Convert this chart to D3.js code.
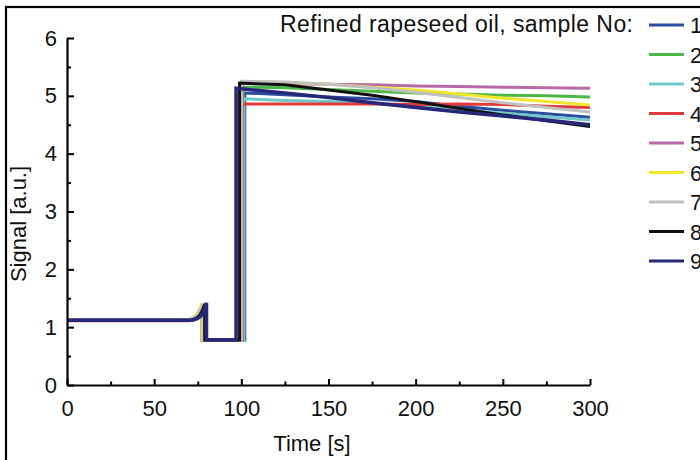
<!DOCTYPE html>
<html><head><meta charset="utf-8">
<script src="https://cdn.jsdelivr.net/npm/d3@7"></script>
<style>body{margin:0;background:#fff}svg{display:block}text{font-family:"Liberation Sans",Arial,sans-serif}</style>
</head><body>
<svg id="c" width="700" height="460"></svg>
<script>
// ---- data ----
const legendTitle = "Refined rapeseed oil, sample No:";
const sampleNames = ["1","2","3","4","5","6","7","8","9"];
const sampleColors = ["#2b4fa0","#4cb848","#6ec8c8","#e03a3a","#b86aa8","#f0e62a","#c0c0c0","#111111","#27287a"];
const xTicks = [0,50,100,150,200,250,300];
const yTicks = [0,1,2,3,4,5,6];
const xMinor = [25,75,125,175,225,275];
const yMinor = [0.5,1.5,2.5,3.5,4.5,5.5];

const s1 = [[0,1.12],[70,1.12],[73,1.15],[75,1.2],[76.5,1.28],[78,1.40],[78,0.78],[102,0.78],[102,5.05],[125,5.02],[150,4.98],[175,4.95],[200,4.90],[225,4.82],[250,4.75],[275,4.69],[300,4.63]];
const s2 = [[0,1.13],[70,1.13],[72.5,1.16],[74.5,1.21],[76,1.29],[77.5,1.40],[77.5,0.78],[101,0.78],[101,5.15],[125,5.14],[150,5.11],[175,5.08],[200,5.05],[225,5.03],[250,5.01],[275,5.00],[300,4.98]];
const s3 = [[0,1.12],[70,1.12],[73,1.15],[75,1.2],[76.5,1.28],[78,1.39],[78,0.78],[101.5,0.78],[101.5,4.95],[125,4.92],[150,4.90],[175,4.87],[200,4.82],[225,4.76],[250,4.70],[275,4.64],[300,4.58]];
const s4 = [[0,1.11],[70,1.11],[72.5,1.14],[74.5,1.2],[76,1.28],[77.5,1.38],[77.5,0.77],[100.5,0.77],[100.5,4.86],[125,4.86],[150,4.86],[175,4.86],[200,4.85],[225,4.86],[250,4.85],[275,4.82],[300,4.80]];
const s5 = [[0,1.12],[70,1.12],[73,1.15],[75,1.2],[76.5,1.28],[78,1.40],[78,0.78],[100.5,0.78],[100.5,5.22],[125,5.21],[150,5.20],[175,5.19],[200,5.17],[225,5.16],[250,5.15],[275,5.14],[300,5.13]];
const s6 = [[0,1.13],[70,1.13],[72.5,1.16],[74.5,1.21],[76,1.29],[77.5,1.41],[77.5,0.78],[100,0.78],[100,5.25],[125,5.23],[150,5.20],[175,5.15],[200,5.10],[225,5.03],[250,4.96],[275,4.90],[300,4.84]];
const s7 = [[0,1.13],[70,1.13],[73,1.16],[75,1.21],[76.5,1.29],[78,1.40],[78,0.78],[100,0.78],[100,5.25],[125,5.24],[150,5.20],[175,5.14],[200,5.06],[225,4.97],[250,4.88],[275,4.80],[300,4.72]];
const s8 = [[0,1.12],[71,1.12],[74,1.15],[76,1.2],[77.5,1.28],[79,1.40],[79,0.78],[99,0.78],[99,5.22],[125,5.19],[150,5.10],[175,5.01],[200,4.90],[225,4.78],[250,4.67],[275,4.57],[300,4.47]];
const s9 = [[0,1.12],[72,1.12],[75,1.15],[77,1.2],[78.5,1.28],[80,1.42],[80,0.78],[97,0.78],[97,5.13],[125,5.05],[150,4.97],[175,4.88],[200,4.80],[225,4.72],[250,4.65],[275,4.58],[300,4.50]];
const allSeries = [s1,s2,s3,s4,s5,s6,s7,s8,s9];

// ---- drawing ----
const svg = d3.select("#c");
const m = {left:67, right:590, top:38, bottom:385};
const x = d3.scaleLinear().domain([0,300]).range([m.left, m.right]);
const y = d3.scaleLinear().domain([0,6]).range([m.bottom, m.top]);
const FS = 22;

svg.append("rect").attr("x",6).attr("y",7).attr("width",800).attr("height",600)
  .attr("fill","none").attr("stroke","#000").attr("stroke-width",2.2);

// lines
const line = d3.line().x(d=>x(d[0])).y(d=>y(d[1]));
allSeries.forEach((s,i)=>{
  svg.append("path").datum(s).attr("d",line).attr("fill","none")
    .attr("stroke",sampleColors[i]).attr("stroke-width", i===8?3.6:3)
    .attr("stroke-linejoin","miter");
});

// axes
const fmt = d3.format("d");
svg.append("g").attr("transform",`translate(0,${m.bottom})`)
  .call(d3.axisBottom(x).tickValues(xTicks).tickFormat(fmt).tickSize(-6).tickSizeOuter(0).tickPadding(15));
svg.append("g").attr("transform",`translate(0,${m.bottom})`)
  .call(d3.axisBottom(x).tickValues(xMinor).tickSize(-3.5).tickSizeOuter(0).tickFormat(""))
  .select(".domain").remove();
svg.append("g").attr("transform",`translate(${m.left},0)`)
  .call(d3.axisLeft(y).tickValues(yTicks).tickFormat(fmt).tickSize(-7).tickSizeOuter(0).tickPadding(10));
svg.append("g").attr("transform",`translate(${m.left},0)`)
  .call(d3.axisLeft(y).tickValues(yMinor).tickSize(-4).tickSizeOuter(0).tickFormat(""))
  .select(".domain").remove();
svg.selectAll(".domain").attr("stroke","#000").attr("stroke-width",2.2);
svg.selectAll(".tick line").attr("stroke","#000").attr("stroke-width",2);
svg.selectAll(".tick text").attr("font-size",FS).attr("fill","#111")
  .attr("font-family","Liberation Sans, Arial, sans-serif");

// axis titles
svg.append("text").attr("x",312).attr("y",451).attr("text-anchor","middle")
  .attr("font-size",FS).attr("fill","#111").text("Time [s]");
svg.append("text").attr("transform","translate(26,224) rotate(-90)").attr("text-anchor","middle")
  .attr("font-size",FS).attr("fill","#111").text("Signal [a.u.]");

// legend
svg.append("text").attr("x",280).attr("y",32)
  .attr("textLength",353).attr("lengthAdjust","spacing")
  .attr("font-size",23).attr("fill","#111").text(legendTitle);
sampleNames.forEach((n,i)=>{
  const yy = 25 + i*29.5;
  svg.append("line").attr("x1",649).attr("x2",684).attr("y1",yy).attr("y2",yy)
    .attr("stroke",sampleColors[i]).attr("stroke-width",3.2);
  svg.append("text").attr("x",690).attr("y",yy+8).attr("font-size",FS).attr("fill","#111").text(n);
});
</script>
</body></html>
